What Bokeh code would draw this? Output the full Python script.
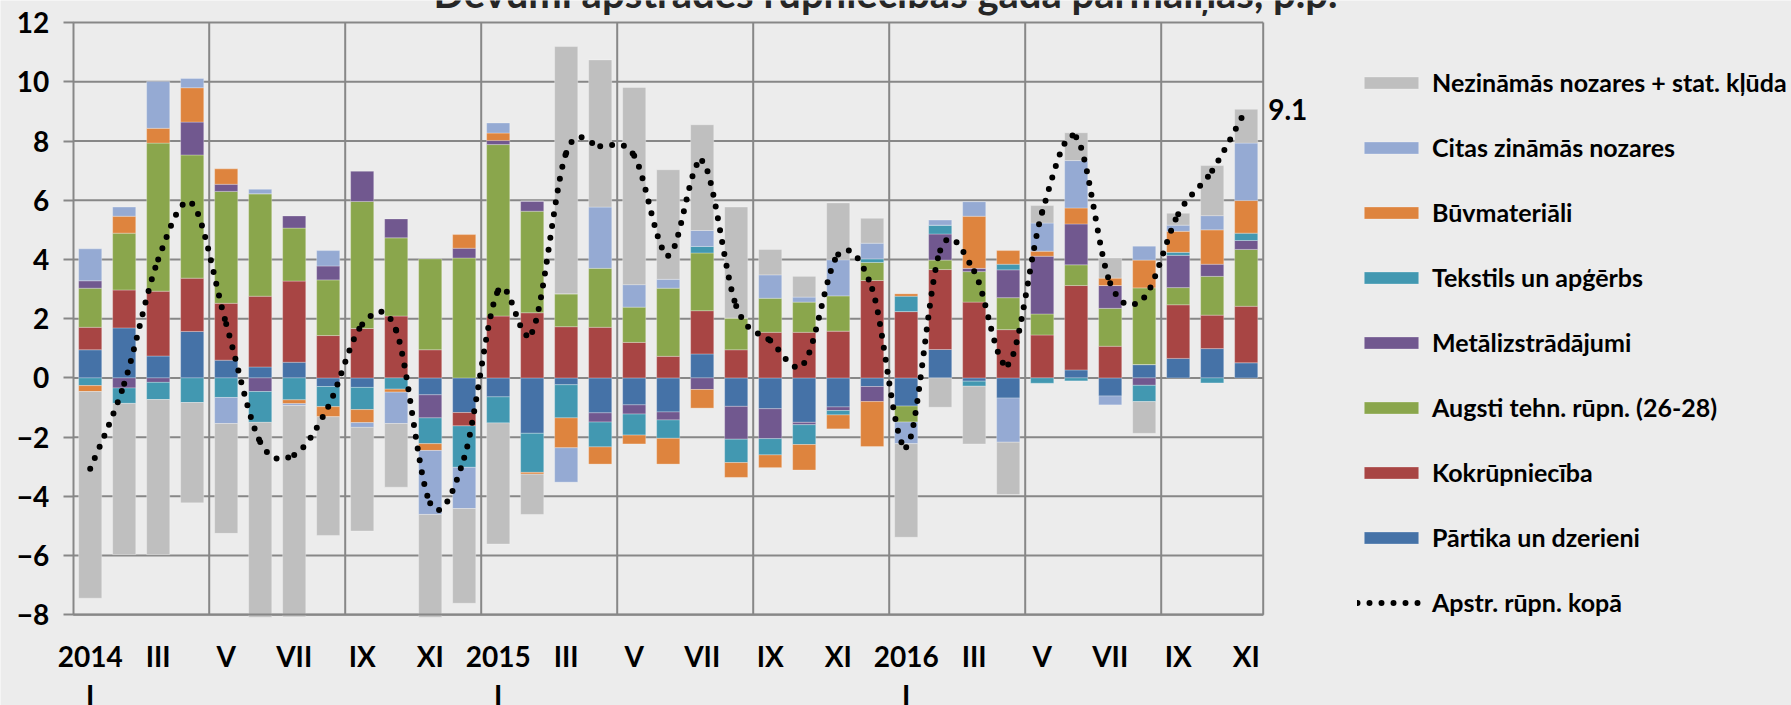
import numpy as np
from bokeh.plotting import figure
from bokeh.models import FixedTicker, Legend, LegendItem, Label
from bokeh.embed import file_html
from bokeh.resources import INLINE

# ---------------- data ----------------
periods = ["2014 I", "II", "III", "IV", "V", "VI", "VII", "VIII", "IX", "X", "XI", "XII",
           "2015 I", "II", "III", "IV", "V", "VI", "VII", "VIII", "IX", "X", "XI", "XII",
           "2016 I", "II", "III", "IV", "V", "VI", "VII", "VIII", "IX", "X", "XI"]

tick_labels = ["2014", "III", "V", "VII", "IX", "XI",
               "2015", "III", "V", "VII", "IX", "XI",
               "2016", "III", "V", "VII", "IX", "XI"]
year_month_label = "I"

partika = [0.95, 1.69, 0.74, 1.57, 0.60, 0.37, 0.53, -0.29, -0.32, 0.00, -0.57, -1.17,
           -0.64, -1.87, -0.23, -1.18, -0.91, -1.15, 0.81, -0.96, -1.04, -1.50, -0.98, -0.29,
           -0.95, 0.96, -0.11, -0.68, 0.00, 0.27, -0.61, 0.45, 0.66, 0.99, 0.51]
kokrupn = [0.76, 1.28, 2.19, 1.80, 1.92, 2.39, 2.74, 1.43, 1.67, 2.09, 0.95, -0.45,
           2.09, 2.20, 1.73, 1.71, 1.20, 0.73, 1.46, 0.95, 1.54, 1.54, 1.58, 3.29,
           2.24, 2.70, 2.56, 1.63, 1.45, 2.85, 1.07, 0.00, 1.81, 1.13, 1.91]
augsti = [1.32, 1.92, 5.00, 4.16, 3.78, 3.46, 1.79, 1.88, 4.29, 2.64, 3.07, 4.05,
          5.79, 3.43, 1.11, 1.99, 1.19, 2.30, 1.95, 1.07, 1.15, 1.02, 1.19, 0.61,
          -0.54, 0.32, 1.03, 1.08, 0.71, 0.70, 1.28, 2.59, 0.58, 1.31, 1.92]
metal = [0.25, -0.34, -0.15, 1.11, 0.24, -0.46, 0.41, 0.47, 1.02, 0.64, -0.78, 0.33,
         0.14, 0.34, 0.00, -0.31, -0.31, -0.27, -0.39, -1.11, -1.01, -0.08, -0.12, -0.51,
         0.00, 0.88, 0.11, 0.94, 1.95, 1.38, 0.77, -0.25, 1.09, 0.41, 0.30]
tekstils = [-0.26, -0.52, -0.58, -0.83, -0.66, -1.04, -0.74, -0.68, -0.75, -0.38, -0.87, -1.40,
            -0.88, -1.32, -1.12, -0.84, -0.71, -0.62, 0.22, -0.79, -0.55, -0.67, -0.15, 0.12,
            0.52, 0.30, -0.17, 0.19, -0.18, -0.10, 0.00, -0.55, 0.10, -0.17, 0.25]
buvmat = [-0.20, 0.57, 0.50, 1.16, 0.52, 0.00, -0.13, -0.34, -0.44, -0.10, -0.23, 0.46,
          0.25, -0.06, -1.01, -0.58, -0.30, -0.87, -0.63, -0.50, -0.43, -0.86, -0.47, -1.52,
          0.08, 0.00, 1.76, 0.46, 0.17, 0.54, 0.25, 0.94, 0.71, 1.16, 1.10]
citas = [1.08, 0.31, 1.58, 0.31, -0.88, 0.15, -0.06, 0.52, -0.16, -1.06, -2.16, -1.39,
         0.34, 0.00, -1.16, 2.07, 0.76, 0.30, 0.54, 0.00, 0.79, 0.17, 1.22, 0.53,
         -0.73, 0.17, 0.49, -1.49, 0.95, 1.60, -0.30, 0.47, 0.21, 0.48, 1.94]
nezinamas = [-6.98, -5.11, -5.24, -3.39, -3.71, -7.03, -7.14, -4.01, -3.50, -2.15, -3.64, -3.20,
             -4.09, -1.36, 8.35, 4.97, 6.66, 3.70, 3.57, 3.75, 0.86, 0.70, 1.92, 0.84,
             -3.16, -0.99, -1.95, -1.77, 0.59, 0.94, 0.68, -1.07, 0.40, 1.69, 1.14]
kopa = [-3.07, -0.20, 4.00, 5.88, 1.82, -2.16, -2.60, -0.97, 1.80, 1.60, -4.23, -2.70,
        2.95, 1.55, 7.60, 7.82, 7.50, 4.13, 7.33, 2.43, 1.26, 0.50, 4.17, 3.00,
        -2.34, 4.30, 3.60, 0.45, 5.60, 8.13, 3.20, 2.72, 5.53, 7.00, 9.07]

series_names = ["Pārtika un dzerieni", "Kokrūpniecība", "Augsti tehn. rūpn. (26-28)",
                "Metālizstrādājumi", "Tekstils un apģērbs", "Būvmateriāli",
                "Citas zināmās nozares", "Nezināmās nozares + stat. kļūda"]
line_name = "Apstr. rūpn. kopā"
title_text = "Devumi apstrādes rūpniecības gada pārmaiņās, p.p."

# ---------------- styles / layout ----------------
colors = ["#4572a7", "#a84544", "#8aa64c", "#71588f", "#4298b1", "#de843e", "#95aad3", "#bfbfbf"]
FONT = "Lato"
GRID = "#878787"
BG = "#ececec"

series_values = [partika, kokrupn, augsti, metal, tekstils, buvmat, citas, nezinamas]
n = len(periods)
x = np.arange(n)
y_ticks = list(range(-8, 13, 2))
y_lo, y_hi = y_ticks[0], y_ticks[-1]

W, H = 1791, 705
CHART_LEFT, CHART_TOP, CHART_BOTTOM = 72.7, 22.1, 614.3   # pixel box of the chart area
px_x = 34.0                                               # px per category
px_y = (CHART_BOTTOM - CHART_TOP) / (y_hi - y_lo)
x_start = -0.5 - CHART_LEFT / px_x
x_end = x_start + W / px_x
y_end = y_hi + CHART_TOP / px_y
y_start = y_end - H / px_y

p = figure(width=W, height=H, min_border=0,
           x_range=(x_start, x_end), y_range=(y_start, y_end),
           output_backend="svg", toolbar_location=None)
p.background_fill_color = BG
p.border_fill_color = BG
p.outline_line_color = None
p.xgrid.visible = False
p.ygrid.visible = False

# chart-area gridlines
p.segment(x0=[-0.5] * len(y_ticks), x1=[n - 0.5] * len(y_ticks), y0=y_ticks, y1=y_ticks,
          line_color=GRID, line_width=2, level="underlay")
vlines = [b - 0.5 for b in list(range(4, n - 2, 4)) + [n]]
p.segment(x0=vlines, x1=vlines, y0=[y_lo] * len(vlines), y1=[y_hi] * len(vlines),
          line_color=GRID, line_width=2, level="underlay")

# stacked bars (positives upward, negatives downward), clipped at the axis minimum
pos_base = np.zeros(n)
neg_base = np.zeros(n)
bar_renderers = []
for vals, col in zip(series_values, colors):
    v = np.array(vals, dtype=float)
    bottom = np.where(v >= 0, pos_base, neg_base + v)
    top = np.where(v >= 0, pos_base + v, neg_base)
    pos_base = pos_base + np.where(v >= 0, v, 0)
    neg_base = neg_base + np.where(v < 0, v, 0)
    bottom = np.maximum(bottom, y_lo - 0.08)
    r = p.vbar(x=x, bottom=bottom, top=top, width=0.68, fill_color=col,
               line_color="white", line_alpha=0.35, line_width=0.8)
    bar_renderers.append(r)

# smoothed dotted total line (one cubic Bezier per segment, Excel-style)
ky = np.array(kopa, dtype=float)
kx = x.astype(float)
x0s, y0s, x1s, y1s, cx0, cy0, cx1, cy1 = [], [], [], [], [], [], [], []
for i in range(n - 1):
    im = max(i - 1, 0)
    ip = min(i + 2, n - 1)
    x0s.append(kx[i]); y0s.append(ky[i]); x1s.append(kx[i + 1]); y1s.append(ky[i + 1])
    cx0.append(kx[i] + (kx[i + 1] - kx[im]) / 6.0)
    cy0.append(ky[i] + (ky[i + 1] - ky[im]) / 6.0)
    cx1.append(kx[i + 1] - (kx[ip] - kx[i]) / 6.0)
    cy1.append(ky[i + 1] - (ky[ip] - ky[i]) / 6.0)
line_r = p.bezier(x0=x0s, y0=y0s, x1=x1s, y1=y1s, cx0=cx0, cy0=cy0, cx1=cx1, cy1=cy1,
                  line_color="black", line_width=6, line_dash="0 12", line_cap="round")

# axes, fixed at the edges of the chart area
p.yaxis.fixed_location = -0.5
p.yaxis.bounds = (y_lo, y_hi)
p.yaxis.ticker = FixedTicker(ticks=y_ticks)
p.yaxis.major_tick_out = 10
p.yaxis.major_tick_in = 0
p.yaxis.minor_tick_line_color = None
p.yaxis.major_tick_line_color = GRID
p.yaxis.major_tick_line_width = 2
p.yaxis.axis_line_color = GRID
p.yaxis.axis_line_width = 2
p.yaxis.major_label_standoff = 14
for ax in (p.yaxis, p.xaxis):
    ax.major_label_text_font = FONT
    ax.major_label_text_font_style = "bold"
    ax.major_label_text_font_size = "28px"
    ax.major_label_text_color = "black"

tick_pos = list(range(0, n, 2))
p.xaxis.fixed_location = y_lo
p.xaxis.bounds = (-0.5, n - 0.5)
p.xaxis.ticker = FixedTicker(ticks=tick_pos)
p.xaxis.major_label_overrides = {t: lab for t, lab in zip(tick_pos, tick_labels)}
p.xaxis.major_tick_line_color = None
p.xaxis.minor_tick_line_color = None
p.xaxis.axis_line_color = GRID
p.xaxis.axis_line_width = 2
p.xaxis.major_label_standoff = 18

# "I" under each year label
for i, per in enumerate(periods):
    if per.endswith(" I"):
        p.add_layout(Label(x=i, y=11, y_units="screen", text=year_month_label,
                           text_align="center", text_baseline="middle",
                           text_font=FONT, text_font_style="bold",
                           text_font_size="28px", text_color="black"))

# value label at the end of the line
p.add_layout(Label(x=n - 1, y=kopa[-1], x_offset=22, text=f"{kopa[-1]:.1f}",
                   text_baseline="middle", text_font=FONT, text_font_style="bold",
                   text_font_size="28px", text_color="black"))

# title (cut off at the top, as in the source)
p.add_layout(Label(x=885, y=H + 8, x_units="screen", y_units="screen", text=title_text,
                   text_align="center", text_baseline="alphabetic", text_font=FONT,
                   text_font_style="bold", text_font_size="40px", text_color="#262626"))

# legend
items = [LegendItem(label=name, renderers=[r]) for name, r in zip(series_names, bar_renderers)]
items = items[::-1] + [LegendItem(label=line_name, renderers=[line_r])]
legend = Legend(items=items, location=(1357, 88), orientation="vertical",
                glyph_width=68, glyph_height=15, label_standoff=7, label_height=30,
                label_text_font=FONT, label_text_font_style="bold",
                label_text_font_size="25px", label_text_color="black",
                spacing=35, padding=0, margin=0,
                border_line_alpha=0, background_fill_alpha=0)
p.add_layout(legend, "center")

open("out.html", "w").write(file_html(p, INLINE))
